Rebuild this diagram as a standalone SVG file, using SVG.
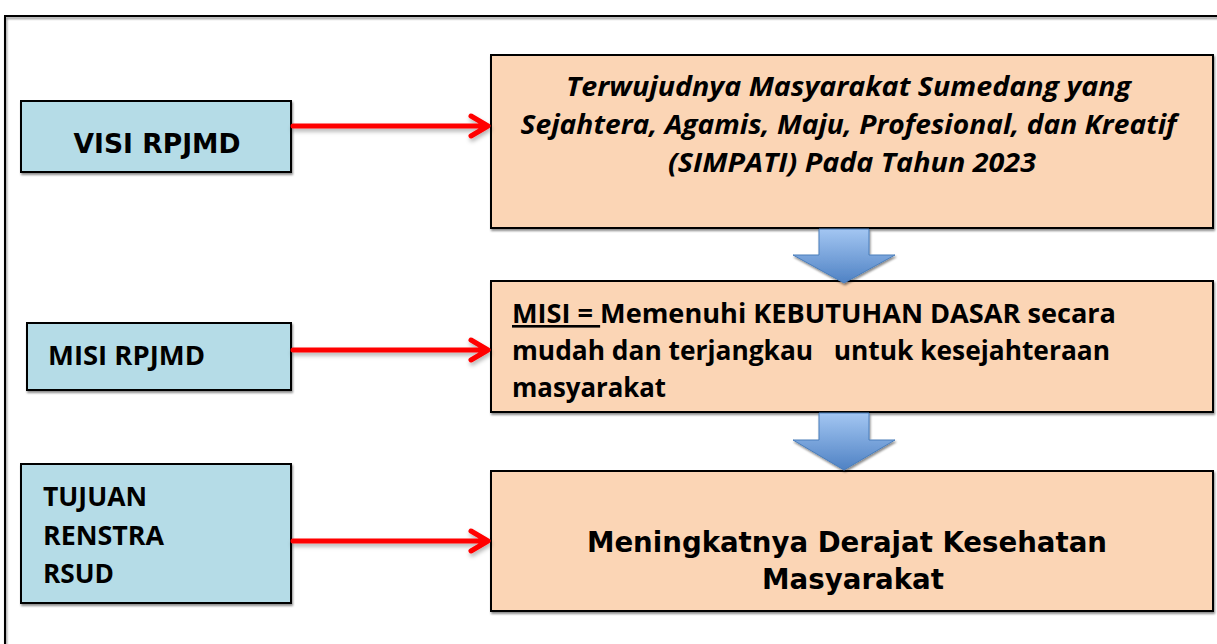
<svg xmlns="http://www.w3.org/2000/svg" width="1217" height="644" viewBox="0 0 1217 644">
<style>
.lbox{fill:#B5DCE7;stroke:#000;stroke-width:2}
.obox{fill:#FBD5B5;stroke:#000;stroke-width:2}
.t{font-family:"Open Sans","Liberation Sans",sans-serif;font-weight:bold;fill:#000}
.g{font-family:"DejaVu Sans","Liberation Sans",sans-serif;font-weight:bold;fill:#000}
.red{stroke:#FF0000;stroke-width:5;fill:none;stroke-linecap:round;stroke-linejoin:round}
.blue{fill:url(#bg);stroke:#4A7EBB;stroke-width:1}
</style>
<defs>
<filter id="sh" x="-5%" y="-5%" width="110%" height="120%">
<feDropShadow dx="1" dy="2" stdDeviation="1.2" flood-color="#000" flood-opacity="0.45"/>
</filter>
<filter id="rs" x="-5%" y="-100%" width="110%" height="300%">
<feDropShadow dx="1" dy="3" stdDeviation="2" flood-color="#000" flood-opacity="0.3"/>
</filter>
<linearGradient id="bg" x1="0" y1="0" x2="0" y2="1">
<stop offset="0" stop-color="#A3C6F2"/>
<stop offset="1" stop-color="#4F82C4"/>
</linearGradient>
</defs>
<rect width="1217" height="644" fill="#fff"/>
<g id="frame"><path d="M5,1000 V16 H1230" fill="none" stroke="#000" stroke-width="2" filter="url(#sh)"/></g>

<g id="visi-rpjmd">
<rect class="lbox" x="21" y="101" width="270" height="71" filter="url(#sh)"/>
<text class="g" x="157" y="153" font-size="26" text-anchor="middle" textLength="167" lengthAdjust="spacingAndGlyphs">VISI RPJMD</text>
</g>
<g id="misi-rpjmd">
<rect class="lbox" x="27" y="323" width="264" height="67" filter="url(#sh)"/>
<text class="t" x="48" y="365" font-size="27" textLength="157" lengthAdjust="spacingAndGlyphs">MISI RPJMD</text>
</g>
<g id="tujuan-renstra">
<rect class="lbox" x="21" y="464" width="270" height="139" filter="url(#sh)"/>
<text class="t" font-size="26">
<tspan x="43" y="506" textLength="104" lengthAdjust="spacingAndGlyphs">TUJUAN</tspan>
<tspan x="43" y="545" textLength="121" lengthAdjust="spacingAndGlyphs">RENSTRA</tspan>
<tspan x="43" y="583" textLength="71" lengthAdjust="spacingAndGlyphs">RSUD</tspan>
</text>
</g>

<g id="visi">
<rect class="obox" x="491" y="55" width="722" height="173" filter="url(#sh)"/>
<text class="t" font-style="italic" font-size="26" text-anchor="middle">
<tspan x="852" y="96" textLength="565" lengthAdjust="spacingAndGlyphs">Terwujudnya Masyarakat Sumedang yang</tspan>
<tspan x="852" y="134" textLength="656" lengthAdjust="spacingAndGlyphs">Sejahtera, Agamis, Maju, Profesional, dan Kreatif</tspan>
<tspan x="852" y="172" textLength="368" lengthAdjust="spacingAndGlyphs">(SIMPATI) Pada Tahun 2023</tspan>
</text>
</g>
<g id="misi">
<rect class="obox" x="491" y="281" width="722" height="131" filter="url(#sh)"/>
<text class="t" font-size="26" xml:space="preserve"><tspan x="512" y="323" textLength="604" lengthAdjust="spacingAndGlyphs"><tspan text-decoration="underline">MISI = </tspan>Memenuhi KEBUTUHAN DASAR secara</tspan><tspan x="512" y="360" textLength="598" lengthAdjust="spacingAndGlyphs">mudah dan terjangkau   untuk kesejahteraan</tspan><tspan x="512" y="397" textLength="154" lengthAdjust="spacingAndGlyphs">masyarakat</tspan></text>
</g>
<g id="tujuan">
<rect class="obox" x="491" y="471" width="722" height="140" filter="url(#sh)"/>
<text class="g" font-size="29" text-anchor="middle">
<tspan x="852" y="552" textLength="520" lengthAdjust="spacingAndGlyphs">Meningkatnya Derajat Kesehatan</tspan>
<tspan x="853" y="589" textLength="182" lengthAdjust="spacingAndGlyphs">Masyarakat</tspan>
</text>
</g>

<g id="connectors">
<g filter="url(#rs)">
<path class="red" d="M293,126 H487 M471,116 L488,126 L471,136"/>
<path class="red" d="M293,350 H487 M471,340 L488,350 L471,360"/>
<path class="red" d="M293,541 H487 M471,531 L488,541 L471,551"/>
</g>
<path class="blue" d="M819,229 H869 V255 H895 L844,283 L793,255 H819 Z" filter="url(#sh)"/>
<path class="blue" d="M819,413 H869 V440 H895 L844,470 L793,440 H819 Z" filter="url(#sh)"/>
</g>
</svg>
